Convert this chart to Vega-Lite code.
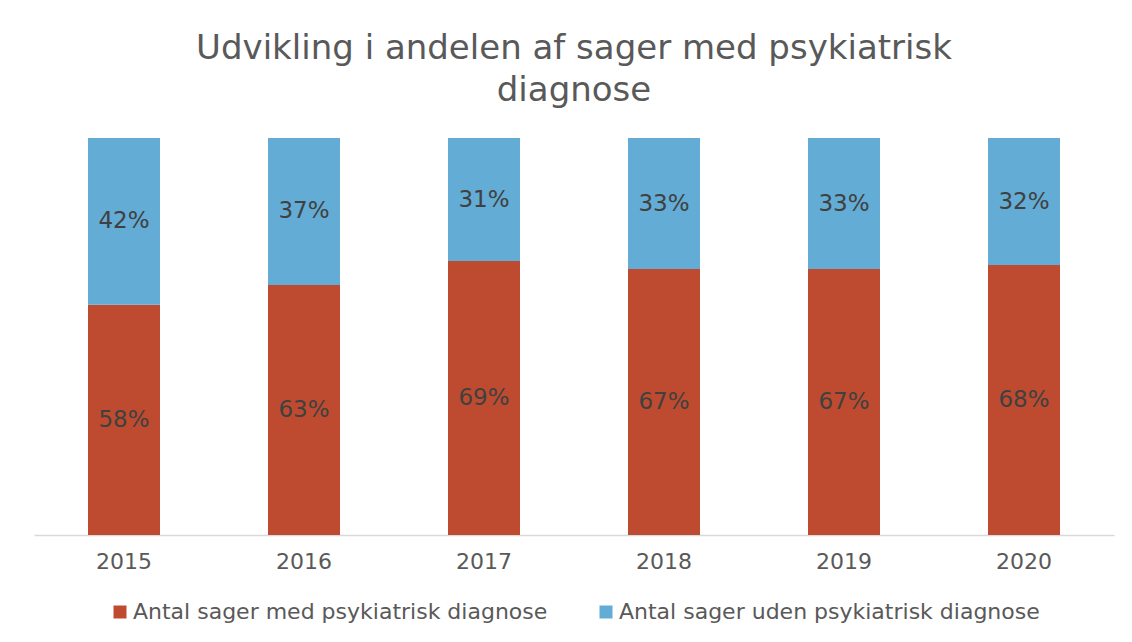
{
  "$schema": "https://vega.github.io/schema/vega-lite/v6.json",
  "width": 1080,
  "height": 397,
  "autosize": {"type": "none"},
  "padding": {"left": 34, "top": 138, "right": 18, "bottom": 107},
  "background": "white",
  "config": {
    "view": {"stroke": null},
    "font": "DejaVu Sans",
    "legend": {"layout": {"bottom": {"anchor": "middle"}}}
  },
  "title": {
    "text": ["Udvikling i andelen af sager med psykiatrisk", "diagnose"],
    "font": "DejaVu Sans",
    "fontSize": 34,
    "fontWeight": "normal",
    "color": "#595959",
    "anchor": "middle",
    "lineHeight": 42,
    "offset": 30
  },
  "data": {
    "values": [
      {"year": "2015", "serie": "Antal sager med psykiatrisk diagnose", "order": 1, "value": 0.58},
      {"year": "2015", "serie": "Antal sager uden psykiatrisk diagnose", "order": 2, "value": 0.42},
      {"year": "2016", "serie": "Antal sager med psykiatrisk diagnose", "order": 1, "value": 0.63},
      {"year": "2016", "serie": "Antal sager uden psykiatrisk diagnose", "order": 2, "value": 0.37},
      {"year": "2017", "serie": "Antal sager med psykiatrisk diagnose", "order": 1, "value": 0.69},
      {"year": "2017", "serie": "Antal sager uden psykiatrisk diagnose", "order": 2, "value": 0.31},
      {"year": "2018", "serie": "Antal sager med psykiatrisk diagnose", "order": 1, "value": 0.67},
      {"year": "2018", "serie": "Antal sager uden psykiatrisk diagnose", "order": 2, "value": 0.33},
      {"year": "2019", "serie": "Antal sager med psykiatrisk diagnose", "order": 1, "value": 0.67},
      {"year": "2019", "serie": "Antal sager uden psykiatrisk diagnose", "order": 2, "value": 0.33},
      {"year": "2020", "serie": "Antal sager med psykiatrisk diagnose", "order": 1, "value": 0.68},
      {"year": "2020", "serie": "Antal sager uden psykiatrisk diagnose", "order": 2, "value": 0.32}
    ]
  },
  "encoding": {
    "x": {
      "field": "year",
      "type": "nominal",
      "scale": {"paddingInner": 0.6, "paddingOuter": 0.3},
      "axis": {
        "title": null,
        "labelAngle": 0,
        "ticks": false,
        "domainColor": "#D9D9D9",
        "domainWidth": 1.5,
        "labelFont": "DejaVu Sans",
        "labelFontSize": 22,
        "labelColor": "#595959",
        "labelPadding": 16
      }
    },
    "order": {"field": "order", "type": "quantitative"}
  },
  "layer": [
    {
      "mark": {"type": "bar"},
      "encoding": {
        "y": {"field": "value", "type": "quantitative", "stack": "zero", "scale": {"domain": [0, 1]}, "axis": null},
        "color": {
          "field": "serie",
          "type": "nominal",
          "scale": {
            "domain": ["Antal sager med psykiatrisk diagnose", "Antal sager uden psykiatrisk diagnose"],
            "range": ["#BE4B30", "#63ACD6"]
          },
          "legend": {
            "title": null,
            "orient": "bottom",
            "direction": "horizontal",
            "symbolType": "square",
            "symbolSize": 169,
            "symbolStrokeWidth": 0,
            "labelFont": "DejaVu Sans",
            "labelFontSize": 22,
            "labelColor": "#595959",
            "labelLimit": 0,
            "labelOffset": 2,
            "columnPadding": 47,
            "offset": 29
          }
        }
      }
    },
    {
      "mark": {"type": "text", "font": "DejaVu Sans", "fontSize": 23, "color": "#404040", "baseline": "middle", "align": "center"},
      "encoding": {
        "y": {"field": "value", "type": "quantitative", "stack": "zero", "bandPosition": 0.5},
        "text": {"field": "value", "type": "quantitative", "format": ".0%"}
      }
    }
  ]
}
